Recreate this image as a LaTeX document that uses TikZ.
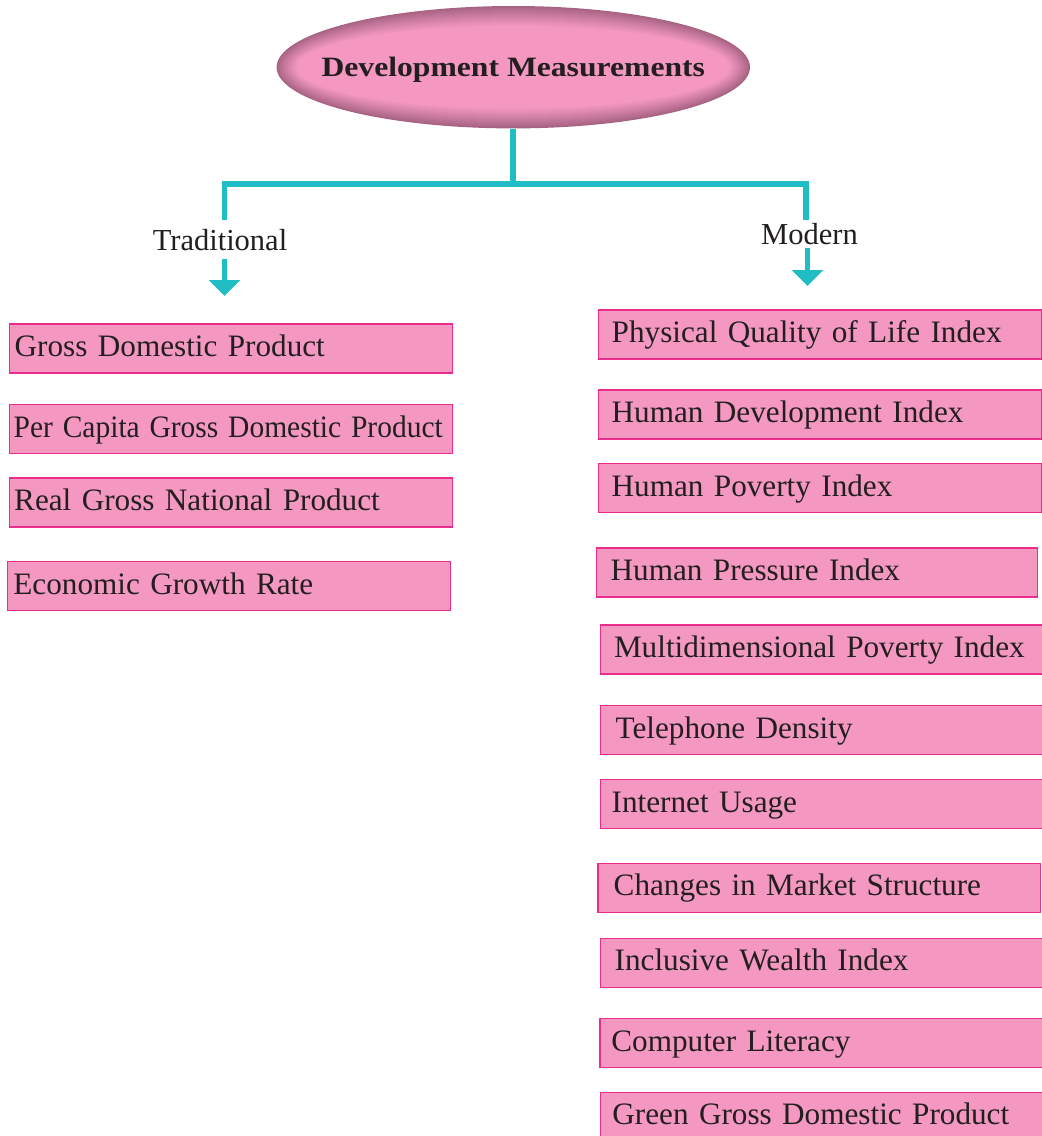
\documentclass[tikz,border=0pt]{standalone}
\usepackage{fontspec}
\setmainfont{Liberation Serif}
\usetikzlibrary{arrows.meta,shapes.geometric}
\definecolor{boxfill}{RGB}{244,152,193}
\definecolor{boxline}{RGB}{234,45,140}
\definecolor{rimcol}{RGB}{166,98,130}
\definecolor{linecol}{RGB}{32,189,196}
\definecolor{txtcol}{RGB}{35,31,32}
\protected\def\myitemfont{\fontsize{31.2}{36}\selectfont}
\tikzset{
  conn/.style={draw=linecol, line width=5.7pt},
  arr/.style={conn, -{Triangle[width=30.7pt,length=16pt]}},
  itembox/.style={draw=boxline, fill=boxfill, line width=1.4pt, anchor=north west,
    minimum height=49pt, text height=23pt, text depth=7pt, align=left,
    font=\myitemfont, text=txtcol, inner ysep=0pt},
  lbl/.style={font=\fontsize{30.5}{34}\selectfont, text=txtcol, anchor=base, inner sep=0pt},
}
\begin{document}
\begin{tikzpicture}[x=1pt,y=-1pt]
\clip (0,0) rectangle (1042,1136);
\fill[white] (0,0) rectangle (1042,1136);
% shaded ellipse
\foreach \k in {0,...,20}{
  \pgfmathsetmacro\p{100*(\k/20)^0.9}
  \pgfmathsetmacro\rx{236.7-\k}
  \pgfmathsetmacro\ry{61.2-\k}
  \fill[boxfill!\p!rimcol] (513.3,67.2) ellipse [x radius=\rx pt, y radius=\ry pt];
}
\node[ellipse, minimum width=473.4pt, minimum height=122.4pt, inner sep=0pt,
  text height=18pt, text depth=0pt, text=txtcol,
  font=\fontsize{28}{30}\selectfont\bfseries] (dm) at (513.3,67.2)
  {\scalebox{1.13}[1]{Development Measurements}};

% connectors
\coordinate (jn) at (513.3,184);
\coordinate (jL) at (224.5,184);
\coordinate (jR) at (806,184);
\coordinate (tl) at (224.5,220);
\coordinate (tr) at (806,220);
\draw[conn] (dm.south) -- (jn);
\draw[conn] (tl) -- (jL) -- (jR) -- (tr);

\node[lbl] (trad) at (220,250) {Traditional};
\node[lbl] (mod) at (809.5,244) {Modern};

\coordinate (tas) at (224.5,259.3);
\coordinate (tat) at (224.5,296);
\coordinate (mas) at (807.5,248.3);
\coordinate (mat) at (807.5,286);
\draw[arr] (tas) -- (tat);
\draw[arr] (mas) -- (mat);

% traditional boxes
\node[itembox, inner xsep=5pt, text width=433pt] (gdp) at (9,323.3) {Gross Domestic Product};
\node[itembox, inner xsep=4pt, text width=435pt] (pcgdp) at (9,404) {\scalebox{0.945}[1]{Per Capita Gross Domestic Product}};
\node[itembox, inner xsep=4.5pt, text width=434pt] (rgnp) at (9,477.3) {Real Gross National Product};
\node[itembox, inner xsep=6pt, text width=431.3pt] (egr) at (6.7,561) {Economic Growth Rate};

% modern boxes
\node[itembox, inner xsep=13.3pt, text width=416.7pt] (pqli) at (597.7,309.3) {Physical Quality of Life Index};
\node[itembox, inner xsep=13.3pt, text width=416.7pt] (hdi) at (597.7,389.3) {Human Development Index};
\node[itembox, inner xsep=13.3pt, text width=416.7pt] (hpi) at (597.7,463) {Human Poverty Index};
\node[itembox, inner xsep=14.3pt, text width=412.7pt] (hpri) at (595.7,547.3) {Human Pressure Index};
\node[itembox, inner xsep=13.3pt, text width=430pt] (mpi) at (600,624.3) {Multidimensional Poverty Index};
\node[itembox, inner xsep=15pt, text width=414pt] (tel) at (600,705) {Telephone Density};
\node[itembox, inner xsep=11.3pt, text width=420pt] (inet) at (599.7,779) {Internet Usage};
\node[itembox, inner xsep=15.7pt, text width=411.3pt] (cms) at (597.3,862.7) {Changes in Market Structure};
\node[itembox, inner xsep=14pt, text width=416pt] (iwi) at (600,937.7) {Inclusive Wealth Index};
\node[itembox, inner xsep=11.4pt, text width=420pt] (cl) at (599.3,1018) {Computer Literacy};
\node[itembox, inner xsep=11.7pt, text width=420pt] (ggdp) at (600,1091.7) {Green Gross Domestic Product};
\end{tikzpicture}
\end{document}
